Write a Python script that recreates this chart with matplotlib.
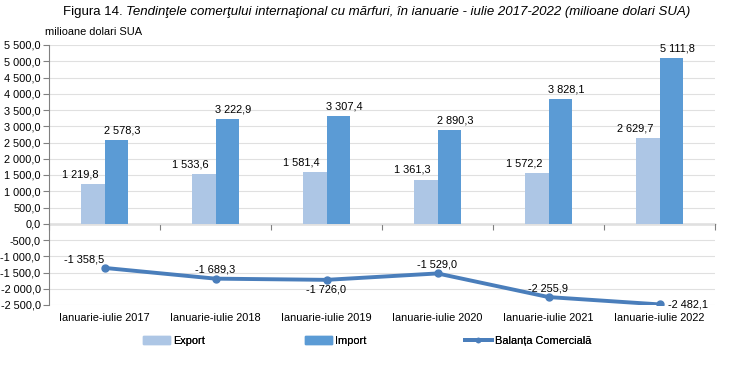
import matplotlib
matplotlib.use("Agg")
import matplotlib.pyplot as plt
import numpy as np
from matplotlib.lines import Line2D
from matplotlib.patches import Patch

plt.rcParams['font.family'] = ['Liberation Sans', 'DejaVu Sans']

categories = ["Ianuarie-iulie 2017", "Ianuarie-iulie 2018", "Ianuarie-iulie 2019",
              "Ianuarie-iulie 2020", "Ianuarie-iulie 2021", "Ianuarie-iulie 2022"]
export = [1219.8, 1533.6, 1581.4, 1361.3, 1572.2, 2629.7]
imports = [2578.3, 3222.9, 3307.4, 2890.3, 3828.1, 5111.8]
balance = [-1358.5, -1689.3, -1726.0, -1529.0, -2255.9, -2482.1]
yticks = list(range(-2500, 5501, 500))

c_exp = '#adc6e5'
c_imp = '#5b9bd5'
c_bal = '#4a7ebb'
FS = 7.9

def fmt(v):
    s = f"{abs(v):,.1f}".replace(",", " ").replace(".", ",")
    return ("-" if v < 0 else "") + s

W, H = 747, 365
fig = plt.figure(figsize=(W/100, H/100), dpi=100)
ymin, ymax = -2500, 5500
ax = fig.add_axes([49/W, 1 - 305/H, (715-49)/W, (305-45)/H])

x = np.arange(len(categories))
w = 0.215
ax.bar(x - w/2, export, w, color=c_exp, zorder=2)
ax.bar(x + w/2, imports, w, color=c_imp, zorder=2)
ax.plot(x, balance, color=c_bal, lw=2.8, marker='o', ms=5, zorder=4)

for i in range(len(x)):
    ax.text(x[i] - w/2 - 0.115, export[i] + 140, fmt(export[i]), ha='center', va='bottom', fontsize=FS)
    ax.text(x[i] + w/2 + 0.05, imports[i] + 140, fmt(imports[i]), ha='center', va='bottom', fontsize=FS)

offsets = [(-0.18, 120, 'center', 'bottom'), (0, 120, 'center', 'bottom'),
           (0, -150, 'center', 'top'), (0, 120, 'center', 'bottom'),
           (0, 120, 'center', 'bottom'), (0.08, 0, 'left', 'center')]
for i, (dx, dy, ha, va) in enumerate(offsets):
    ax.text(x[i] + dx, balance[i] + dy, fmt(balance[i]), ha=ha, va=va, fontsize=FS)

ax.set_xlim(-0.5, len(x) - 0.5)
ax.set_ylim(ymin, ymax)
ax.set_yticks(yticks)
ax.set_yticklabels([fmt(v) for v in yticks], fontsize=FS)
ax.set_xticks(x)
ax.set_xticklabels(categories, fontsize=FS)
ax.tick_params(axis='x', length=0, pad=6)
ax.tick_params(axis='y', length=4, color='#808080', pad=2)
ax.yaxis.grid(True, color='#e0e0e0', lw=0.8, zorder=0)
ax.set_axisbelow(True)
for s in ['top', 'right', 'bottom']:
    ax.spines[s].set_visible(False)
ax.spines['left'].set_color('#808080')

# zero axis line with boundary tick marks
sec = ax.secondary_xaxis((0 - ymin) / (ymax - ymin))
sec.set_xticks(np.arange(len(x) + 1) - 0.5)
sec.set_xticklabels([])
sec.tick_params(axis='x', length=4, color='#808080', direction='out')
sec.spines['bottom'].set_color('#808080')
sec.spines['bottom'].set_linewidth(1)

# Title: measure and center
TFS = 9.5
ty = 1 - 12/H
t1 = fig.text(0, ty, "Figura 14. ", ha='left', va='center', fontsize=TFS)
t2 = fig.text(0, ty, "Tendinţele comerţului internaţional cu mărfuri, în ianuarie - iulie 2017-2022 (milioane dolari SUA)",
              ha='left', va='center', fontsize=TFS, style='italic')
fig.canvas.draw()
r = fig.canvas.get_renderer()
w1 = t1.get_window_extent(r).width
w2 = t2.get_window_extent(r).width
x0 = 377 - (w1 + w2) / 2
t1.set_x(x0 / W)
t2.set_x((x0 + w1) / W)

fig.text(45/W, 1 - 32/H, "milioane dolari SUA", ha='left', va='center', fontsize=FS)

items = [(Patch(color=c_exp), "Export", 146),
         (Patch(color=c_imp), "Import", 308),
         (Line2D([0], [0], color=c_bal, lw=2.8, marker='o', ms=3), "Balanța Comercială", 468)]
for h, lab, px in items:
    lg = fig.legend([h], [lab], loc='center left', bbox_to_anchor=(px/W - 0.008, 1 - 341/H),
                    frameon=False, fontsize=FS, handlelength=2.4, handletextpad=0.3,
                    borderaxespad=0, borderpad=0.3)
    fig.add_artist(lg)

fig.savefig("out.png", dpi=100)
